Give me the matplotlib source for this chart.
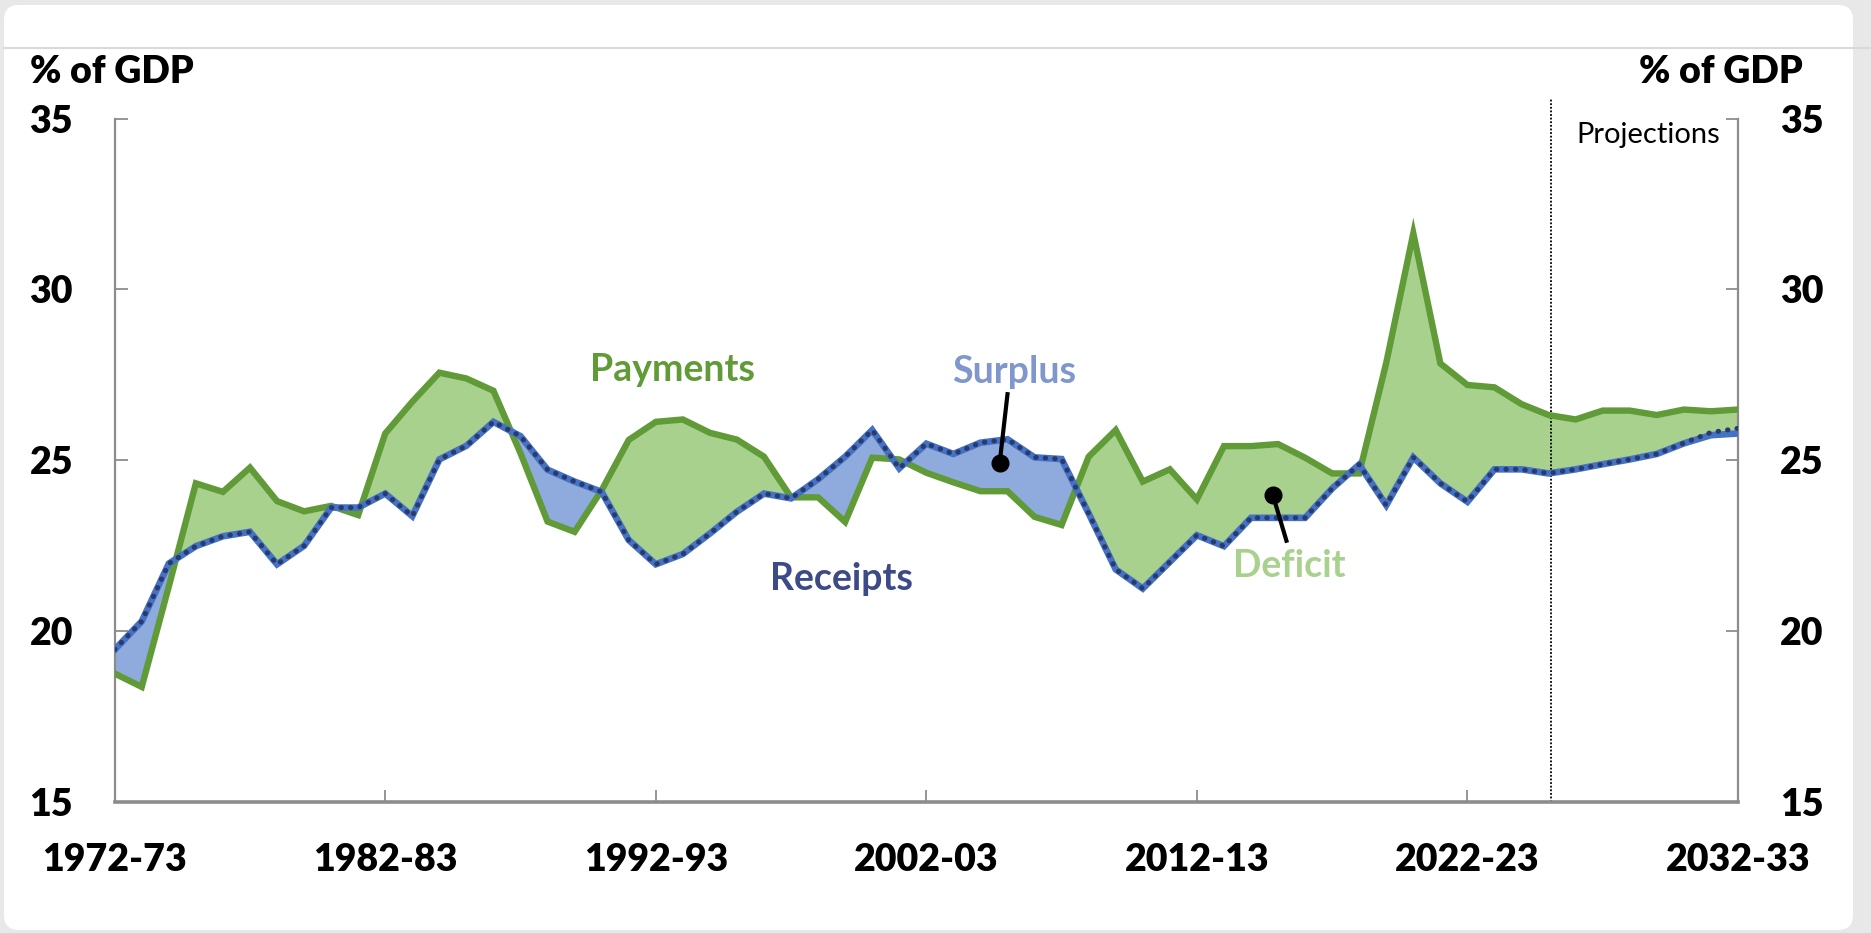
import matplotlib
matplotlib.use('Agg')
import matplotlib.pyplot as plt
from matplotlib.patches import FancyBboxPatch
from matplotlib.lines import Line2D
import numpy as np

# financial years 1972-73 .. 2032-33 (61 points)
years = [f"{y}-{str(y + 1)[-2:]}" for y in range(1972, 2033)]
tick_years = ['1972-73', '1982-83', '1992-93', '2002-03', '2012-13', '2022-23', '2032-33']

# % of GDP
payments = [18.75, 18.36, 21.30, 24.32, 24.07, 24.78, 23.80, 23.50, 23.66, 23.39,
            25.78, 26.71, 27.56, 27.39, 27.03, 25.20, 23.20, 22.90, 24.12, 25.59,
            26.12, 26.19, 25.80, 25.60, 25.10, 23.91, 23.91, 23.19, 25.07, 25.02,
            24.63, 24.35, 24.09, 24.09, 23.34, 23.10, 25.10, 25.88, 24.37, 24.73,
            23.85, 25.41, 25.41, 25.47, 25.07, 24.61, 24.61, 27.85, 31.64, 27.83,
            27.20, 27.13, 26.64, 26.32, 26.19, 26.45, 26.45, 26.32, 26.48, 26.43,
            26.48]
receipts = [19.45, 20.28, 21.97, 22.48, 22.77, 22.90, 21.95, 22.49, 23.61, 23.61,
            24.02, 23.36, 25.02, 25.42, 26.12, 25.70, 24.72, 24.37, 24.07, 22.66,
            21.95, 22.25, 22.85, 23.49, 24.02, 23.88, 24.44, 25.10, 25.88, 24.76,
            25.48, 25.18, 25.51, 25.61, 25.08, 25.03, 23.44, 21.80, 21.24, 22.02,
            22.80, 22.48, 23.31, 23.31, 23.31, 24.17, 24.87, 23.68, 25.08, 24.32,
            23.78, 24.73, 24.73, 24.61, 24.73, 24.88, 25.02, 25.18, 25.49, 25.73,
            25.78]
receipts_dotted = [19.45, 20.28, 21.97, 22.48, 22.77, 22.90, 21.95, 22.49, 23.61, 23.61,
                   24.02, 23.36, 25.02, 25.42, 26.12, 25.70, 24.72, 24.37, 24.07, 22.66,
                   21.95, 22.25, 22.85, 23.49, 24.02, 23.88, 24.44, 25.10, 25.88, 24.76,
                   25.48, 25.18, 25.51, 25.61, 25.08, 25.03, 23.44, 21.80, 21.24, 22.02,
                   22.80, 22.48, 23.31, 23.31, 23.31, 24.17, 24.87, 23.68, 25.08, 24.32,
                   23.78, 24.73, 24.73, 24.61, 24.73, 24.88, 25.02, 25.18, 25.50, 25.81,
                   25.93]
projection_start = 53.1

GREEN = '#609b38'
GREEN_FILL = '#a9d18e'
BLUE = '#4472c4'
BLUE_FILL = '#8faadc'
NAVY = '#2b3a6e'
GREY = '#8c8c8c'
HEAVY = 'heavy'

plt.rcParams['font.family'] = ['Lato', 'DejaVu Sans']

fig = plt.figure(figsize=(18.71, 9.33), dpi=100)
fig.patch.set_facecolor('#e8e8e8')
card = FancyBboxPatch((0.04, 0.03), 18.49, 9.25, boxstyle='round,pad=0,rounding_size=0.15',
                      transform=fig.dpi_scale_trans, facecolor='white', edgecolor='none', zorder=-5)
fig.patches.append(card)
fig.lines.append(Line2D([0.04, 18.71], [8.853, 8.853], transform=fig.dpi_scale_trans,
                        color='#d9d9d9', lw=1.5, zorder=-4))

ax = fig.add_axes([0.0613, 0.1408, 0.8676, 0.7321])
ax.set_zorder(2)
ax.patch.set_alpha(0)
x = np.arange(len(years))
p = np.array(payments)
r = np.array(receipts)

ax.fill_between(x, p, r, where=p >= r, interpolate=True, color=GREEN_FILL, lw=0, zorder=1)
ax.fill_between(x, p, r, where=r >= p, interpolate=True, color=BLUE_FILL, lw=0, zorder=1)
ax.plot(x, p, color=GREEN, lw=4.6, solid_joinstyle='miter', zorder=3)
ax.plot(x, r, color=BLUE, lw=4.8, solid_joinstyle='miter', zorder=4)
ax.plot(x, receipts_dotted, color=NAVY, lw=3.6, dashes=(0.1, 1.8), dash_capstyle='round', zorder=5)

ax.plot([projection_start, projection_start], [15, 35.6], color='black', lw=1.3,
        ls=(0, (1, 1)), clip_on=False, zorder=2)
ax.text(56.67, 34.52, 'Projections', fontsize=21, ha='center', va='center')

# series labels
ax.text(20.6, 27.64, 'Payments', color=GREEN, fontsize=27, fontweight='bold', ha='center', va='center')
ax.text(26.88, 21.53, 'Receipts', color='#3c4b88', fontsize=27, fontweight='bold', ha='center', va='center')
ax.text(33.24, 27.59, 'Surplus', color='#7f97cc', fontsize=27, fontweight='bold', ha='center', va='center')
ax.text(43.42, 21.9, 'Deficit', color=GREEN_FILL, fontsize=27, fontweight='bold', ha='center', va='center')

# pointer lines
ax.plot([32.71, 33.0], [24.92, 26.93], color='black', lw=3, zorder=6)
ax.plot(32.71, 24.92, 'o', color='black', ms=12, zorder=6)
ax.plot([42.81, 43.31], [23.97, 22.64], color='black', lw=3, zorder=6)
ax.plot(42.81, 23.97, 'o', color='black', ms=12, zorder=6)

ax.set_xlim(0, len(years) - 1)
ax.set_ylim(15, 35)
ax.set_xticks([years.index(t) for t in tick_years])
ax.set_xticklabels(tick_years)
ax.set_yticks([15, 20, 25, 30, 35])

ax.spines['top'].set_visible(False)
ax.spines['left'].set_color(GREY)
ax.spines['left'].set_linewidth(1.6)
ax.spines['right'].set_color(GREY)
ax.spines['right'].set_linewidth(1.6)
ax.spines['bottom'].set_color(GREY)
ax.spines['bottom'].set_linewidth(2.6)

ax.tick_params(axis='both', direction='in', length=9, width=1.3, color=GREY,
               labelsize=27, pad=30)
ax.tick_params(axis='y', right=True, labelright=True)
for lab in ax.get_xticklabels() + ax.get_yticklabels():
    lab.set_fontweight(HEAVY)

fig.text(30 / 1871, 1 - 72 / 933, '% of GDP', fontsize=27, fontweight=HEAVY, ha='left', va='center')
fig.text(1803 / 1871, 1 - 72 / 933, '% of GDP', fontsize=27, fontweight=HEAVY, ha='right', va='center')

fig.savefig('out.png', dpi=100, facecolor=fig.get_facecolor())
